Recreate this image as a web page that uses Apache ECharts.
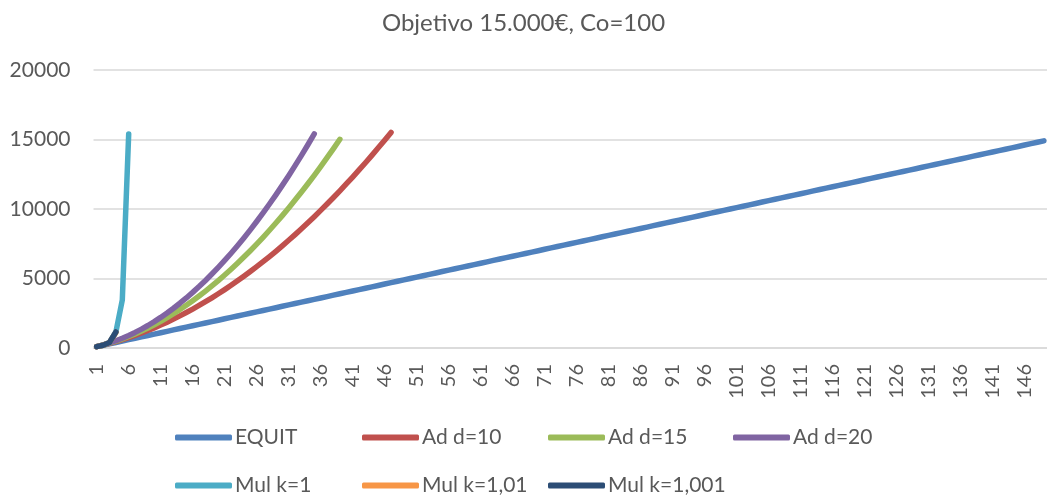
<!DOCTYPE html>
<html>
<head>
<meta charset="utf-8">
<script src="https://cdn.jsdelivr.net/npm/echarts@6/dist/echarts.min.js"></script>
<style>
  html, body { margin: 0; padding: 0; background: #fff; }
  #chart { width: 1047px; height: 496px; }
</style>
</head>
<body>
<div id="chart"></div>
<script>
// Round numbers (1..149)
const rounds = [
  1,2,3,4,5,6,7,8,9,10,11,12,13,14,15,16,17,18,19,20,
  21,22,23,24,25,26,27,28,29,30,31,32,33,34,35,36,37,38,39,40,
  41,42,43,44,45,46,47,48,49,50,51,52,53,54,55,56,57,58,59,60,
  61,62,63,64,65,66,67,68,69,70,71,72,73,74,75,76,77,78,79,80,
  81,82,83,84,85,86,87,88,89,90,91,92,93,94,95,96,97,98,99,100,
  101,102,103,104,105,106,107,108,109,110,111,112,113,114,115,116,117,118,119,120,
  121,122,123,124,125,126,127,128,129,130,131,132,133,134,135,136,137,138,139,140,
  141,142,143,144,145,146,147,148,149
];

// Accumulated stake per strategy
const equit = [
  100,200,300,400,500,600,700,800,900,1000,1100,1200,1300,1400,1500,1600,1700,1800,1900,2000,
  2100,2200,2300,2400,2500,2600,2700,2800,2900,3000,3100,3200,3300,3400,3500,3600,3700,3800,3900,4000,
  4100,4200,4300,4400,4500,4600,4700,4800,4900,5000,5100,5200,5300,5400,5500,5600,5700,5800,5900,6000,
  6100,6200,6300,6400,6500,6600,6700,6800,6900,7000,7100,7200,7300,7400,7500,7600,7700,7800,7900,8000,
  8100,8200,8300,8400,8500,8600,8700,8800,8900,9000,9100,9200,9300,9400,9500,9600,9700,9800,9900,10000,
  10100,10200,10300,10400,10500,10600,10700,10800,10900,11000,11100,11200,11300,11400,11500,11600,11700,11800,11900,12000,
  12100,12200,12300,12400,12500,12600,12700,12800,12900,13000,13100,13200,13300,13400,13500,13600,13700,13800,13900,14000,
  14100,14200,14300,14400,14500,14600,14700,14800,14900
];
const adD10 = [
  100,210,330,460,600,750,910,1080,1260,1450,1650,1860,2080,2310,2550,2800,3060,3330,3610,3900,
  4200,4510,4830,5160,5500,5850,6210,6580,6960,7350,7750,8160,8580,9010,9450,9900,10360,10830,11310,11800,
  12300,12810,13330,13860,14400,14950,15510
];
const adD15 = [
  100,215,345,490,650,825,1015,1220,1440,1675,1925,2190,2470,2765,3075,3400,3740,4095,4465,4850,
  5250,5665,6095,6540,7000,7475,7965,8470,8990,9525,10075,10640,11220,11815,12425,13050,13690,14345,15015
];
const adD20 = [
  100,220,360,520,700,900,1120,1360,1620,1900,2200,2520,2860,3220,3600,4000,4420,4860,5320,5800,
  6300,6820,7360,7920,8500,9100,9720,10360,11020,11700,12400,13120,13860,14620,15400
];
const mulK1 = [100, 200, 400, 1150, 3450, 15400];
const mulK101 = [100, 200, 400, 1120];
const mulK1001 = [100, 200, 400, 1150];

const yTicks = { min: 0, max: 20000, interval: 5000 };

const seriesNames = ['EQUIT', 'Ad d=10', 'Ad d=15', 'Ad d=20', 'Mul k=1', 'Mul k=1,01', 'Mul k=1,001'];
const seriesData = [equit, adD10, adD15, adD20, mulK1, mulK101, mulK1001];
const colors = ['#4F81BD', '#C0504D', '#9BBB59', '#8064A2', '#4BACC6', '#F79646', '#2C4D75'];

const FONT = 'Lato';
const TXT = '#595959';

// Legend grid: four columns, two rows
const legendCols = [175, 362, 548, 733];
const legendRows = [427, 475];

const legends = seriesNames.map((name, i) => ({
  data: [name],
  left: legendCols[i % 4],
  top: legendRows[Math.floor(i / 4)],
  padding: 0,
  itemWidth: 57,
  itemHeight: 6,
  itemGap: 0,
  icon: 'roundRect',
  textStyle: { fontFamily: FONT, fontSize: 21, color: TXT, padding: [0, 0, 0, -2] }
}));

const chart = echarts.init(document.getElementById('chart'), null, { renderer: 'canvas' });

chart.setOption({
  animation: false,
  color: colors,
  title: {
    text: 'Objetivo 15.000€, Co=100',
    left: 'center',
    top: 6,
    textStyle: { fontFamily: FONT, fontSize: 24, fontWeight: 'normal', color: TXT }
  },
  legend: legends,
  grid: { left: 93.5, right: 0, top: 70, bottom: 148, containLabel: false },
  xAxis: {
    type: 'category',
    data: rounds,
    boundaryGap: true,
    axisLine: { lineStyle: { color: '#D9D9D9', width: 1.5 } },
    axisTick: { show: false },
    axisLabel: {
      interval: 4,
      rotate: 90,
      margin: 16,
      fontFamily: FONT,
      fontSize: 20,
      color: TXT
    },
    splitLine: { show: false }
  },
  yAxis: {
    type: 'value',
    min: yTicks.min,
    max: yTicks.max,
    interval: yTicks.interval,
    axisLine: { show: false },
    axisTick: { show: false },
    axisLabel: {
      margin: 23,
      fontFamily: FONT,
      fontSize: 21,
      color: TXT,
      formatter: (v) => String(v)
    },
    splitLine: { lineStyle: { color: '#D9D9D9', width: 1.5 } }
  },
  series: seriesNames.map((name, i) => ({
    name: name,
    type: 'line',
    data: seriesData[i],
    showSymbol: false,
    symbol: 'none',
    smooth: false,
    lineStyle: { width: 5.5, color: colors[i], cap: 'round', join: 'round' },
    itemStyle: { color: colors[i] },
    z: 2 + i
  }))
});
</script>
</body>
</html>
